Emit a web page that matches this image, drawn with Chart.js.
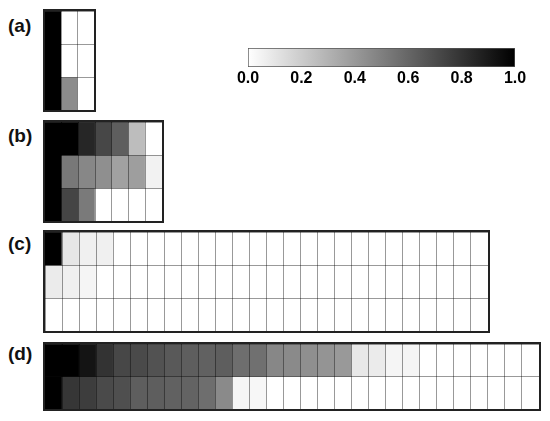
<!DOCTYPE html>
<html>
<head>
<meta charset="utf-8">
<script src="https://cdn.jsdelivr.net/npm/chart.js@4/dist/chart.umd.min.js"></script>
<style>
  body { margin: 0; background: #fff; width: 550px; height: 421px; position: relative; overflow: hidden; font-family: Arial, "Liberation Sans", sans-serif; }
  .panel { position: absolute; box-sizing: border-box; border: 2px solid #222; }
  .lbl { position: absolute; font-weight: bold; font-size: 19px; color: #111; }
  #cbWrap { position: absolute; left: 228px; top: 48px; width: 307px; height: 38px; }
</style>
</head>
<body>
<div class="lbl" style="left:8px;top:15px">(a)</div>
<div class="lbl" style="left:8px;top:125px">(b)</div>
<div class="lbl" style="left:8px;top:233px">(c)</div>
<div class="lbl" style="left:8px;top:343px">(d)</div>

<div class="panel" style="left:43px;top:9px;width:53px;height:103px"><canvas id="pa"></canvas></div>
<div class="panel" style="left:43px;top:120px;width:121px;height:103px"><canvas id="pb"></canvas></div>
<div class="panel" style="left:43px;top:230px;width:447px;height:103px"><canvas id="pc"></canvas></div>
<div class="panel" style="left:43px;top:342px;width:498px;height:69px"><canvas id="pd"></canvas></div>
<div id="cbWrap"><canvas id="cb"></canvas></div>

<script>
// values 0..1, rows listed top to bottom
const panelA = [
  [1, 0, 0],
  [1, 0, 0],
  [1, 0.45, 0]
];
const panelB = [
  [1, 1, 0.85, 0.72, 0.63, 0.26, 0],
  [1, 0.53, 0.47, 0.44, 0.37, 0.38, 0.05],
  [1, 0.73, 0.52, 0, 0, 0, 0]
];
const panelC = [
  [1, 0.1, 0.06, 0.06, 0, 0, 0, 0, 0, 0, 0, 0, 0, 0, 0, 0, 0, 0, 0, 0, 0, 0, 0, 0, 0, 0],
  [0.08, 0.06, 0.04, 0, 0, 0, 0, 0, 0, 0, 0, 0, 0, 0, 0, 0, 0, 0, 0, 0, 0, 0, 0, 0, 0, 0],
  [0, 0, 0, 0, 0, 0, 0, 0, 0, 0, 0, 0, 0, 0, 0, 0, 0, 0, 0, 0, 0, 0, 0, 0, 0, 0]
];
const panelD = [
  [1, 1, 0.92, 0.8, 0.72, 0.71, 0.68, 0.65, 0.63, 0.62, 0.63, 0.57, 0.56, 0.47, 0.46, 0.44, 0.42, 0.40, 0.09, 0.08, 0.04, 0.04, 0, 0, 0, 0, 0, 0, 0],
  [1, 0.79, 0.76, 0.71, 0.69, 0.63, 0.63, 0.62, 0.61, 0.57, 0.46, 0.04, 0.03, 0, 0, 0, 0, 0, 0, 0, 0, 0, 0, 0, 0, 0, 0, 0, 0]
];
const cbTicks = [0, 0.2, 0.4, 0.6, 0.8, 1.0];

const lineCol = 'rgba(0,0,0,0.4)';

function gray(v) {
  const g = Math.round(255 * (1 - v));
  return 'rgb(' + g + ',' + g + ',' + g + ')';
}

function heatmap(id, vals) {
  const nRows = vals.length;
  const labels = vals[0].map((_, i) => String(i + 1));
  const datasets = vals.map((row, r) => ({
    data: row.map((v, i) => ({ x: labels[i], y: [r, r + 1] })),
    backgroundColor: row.map(gray),
    borderWidth: 0,
    grouped: false,
    barPercentage: 1,
    categoryPercentage: 1
  }));
  new Chart(document.getElementById(id), {
    type: 'bar',
    data: { labels: labels, datasets: datasets },
    options: {
      responsive: true,
      maintainAspectRatio: false,
      animation: false,
      layout: { padding: 0 },
      plugins: { legend: { display: false }, tooltip: { enabled: false } },
      scales: {
        x: {
          offset: true,
          grid: { z: 1, offset: true, color: lineCol, drawTicks: false },
          ticks: { display: false },
          border: { display: false }
        },
        y: {
          min: 0,
          max: nRows,
          reverse: true,
          grid: { z: 1, color: lineCol, drawTicks: false },
          ticks: { display: false, stepSize: 1 },
          border: { display: false }
        }
      }
    }
  });
}

heatmap('pa', panelA);
heatmap('pb', panelB);
heatmap('pc', panelC);
heatmap('pd', panelD);

// colour bar
new Chart(document.getElementById('cb'), {
  type: 'bar',
  data: {
    labels: ['scale'],
    datasets: [{
      data: [[cbTicks[0], cbTicks[cbTicks.length - 1]]],
      backgroundColor: function (c) {
        const ch = c.chart;
        if (!ch.chartArea) return '#888';
        const sx = ch.scales.x;
        const g = ch.ctx.createLinearGradient(sx.getPixelForValue(0), 0, sx.getPixelForValue(1), 0);
        g.addColorStop(0, '#ffffff');
        g.addColorStop(1, '#000000');
        return g;
      },
      borderColor: '#555',
      borderWidth: 1,
      borderSkipped: false,
      barPercentage: 1,
      categoryPercentage: 1
    }]
  },
  options: {
    indexAxis: 'y',
    responsive: true,
    maintainAspectRatio: false,
    animation: false,
    layout: { padding: { left: 20, right: 20 } },
    plugins: { legend: { display: false }, tooltip: { enabled: false } },
    scales: {
      x: {
        min: 0,
        max: 1,
        afterBuildTicks: function (s) { s.ticks = cbTicks.map(v => ({ value: v })); },
        ticks: {
          callback: v => v.toFixed(1),
          color: '#000',
          padding: 2,
          font: { family: 'Arial, "Liberation Sans"', size: 16, weight: 'bold' }
        },
        grid: { display: false, drawTicks: false },
        border: { display: false }
      },
      y: { display: false }
    }
  }
});
</script>
</body>
</html>
